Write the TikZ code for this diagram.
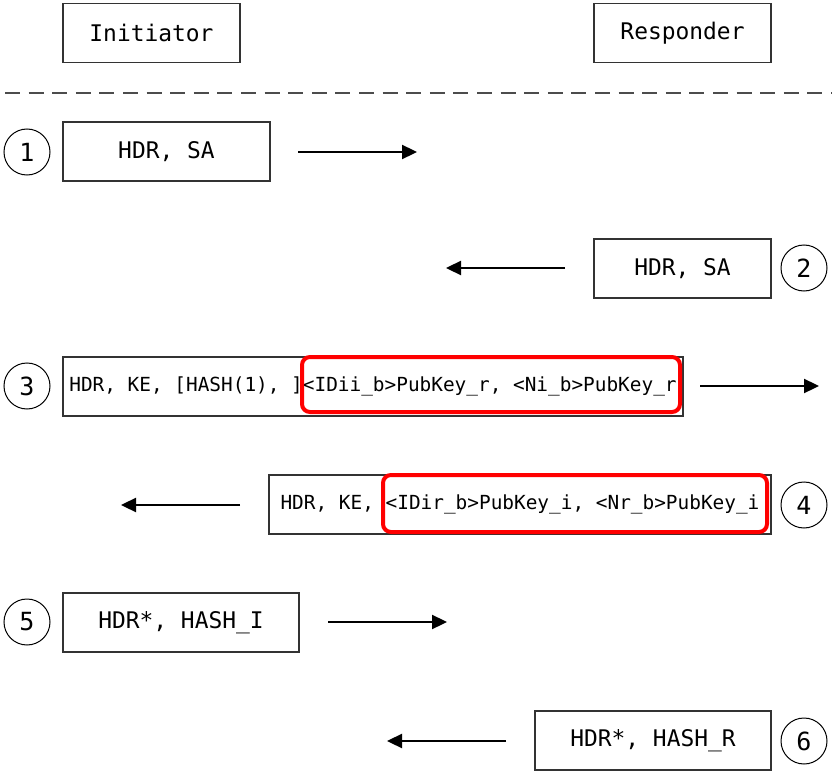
\documentclass[tikz,border=0pt]{standalone}
\usepackage{fontspec}
\setmonofont{DejaVu Sans Mono}
\usetikzlibrary{arrows.meta}
\tikzset{
  msgbox/.style={draw=black!80, line width=1.3pt, rectangle, inner sep=0pt, minimum height=59pt, font=\ttfamily\fontsize{22.9}{26}\selectfont},
  longbox/.style={msgbox, font=\ttfamily\fontsize{19.4}{22}\selectfont},
  numcirc/.style={draw=black, line width=1pt, circle, inner sep=0pt, minimum size=46pt, font=\ttfamily\fontsize{25}{28}\selectfont},
  hilite/.style={draw=red, line width=4pt, rounded corners=8pt, rectangle, inner sep=0pt},
  msgarrow/.style={line width=2.3pt, -{Triangle[length=15pt,width=14pt]}},
  sep/.style={line width=2pt, draw=black!70, dash pattern=on 15pt off 8.6pt}
}
\begin{document}
\begin{tikzpicture}[x=1pt,y=-1pt]
\useasboundingbox (0,0) rectangle (836,773);
% participants
\node[msgbox, minimum width=177pt] (init) at (151.5,33) {Initiator};
\node[msgbox, minimum width=177pt] (resp) at (682.5,33) {Responder};
\coordinate (sepL) at (5,93);
\coordinate (sepR) at (832,93);
\draw[sep] (sepL) -- (sepR);
% message 1
\node[numcirc] (c1) at (27,152) {1};
\node[msgbox, minimum width=207pt] (m1) at (166.5,151.5) {HDR, SA};
\coordinate (a1s) at (298,152);
\coordinate (a1e) at (417,152);
\draw[msgarrow] (a1s) -- (a1e);
% message 2
\node[msgbox, minimum width=177pt] (m2) at (682.5,268.5) {HDR, SA};
\node[numcirc] (c2) at (804,268) {2};
\coordinate (a2s) at (565,268);
\coordinate (a2e) at (446,268);
\draw[msgarrow] (a2s) -- (a2e);
% message 3
\node[numcirc] (c3) at (27,386) {3};
\node[longbox, minimum width=620pt] (m3) at (373,386.5) {HDR, KE, [HASH(1), ]<IDii\_b>PubKey\_r, <Ni\_b>PubKey\_r};
\node[hilite, minimum width=378pt, minimum height=55pt] (h3) at (491,384.5) {};
\coordinate (a3s) at (700,386);
\coordinate (a3e) at (819,386);
\draw[msgarrow] (a3s) -- (a3e);
% message 4
\node[longbox, minimum width=502pt] (m4) at (520,504.5) {HDR, KE, <IDir\_b>PubKey\_i, <Nr\_b>PubKey\_i};
\node[hilite, minimum width=384pt, minimum height=57pt] (h4) at (575,503.5) {};
\node[numcirc] (c4) at (804,505) {4};
\coordinate (a4s) at (240,505);
\coordinate (a4e) at (121,505);
\draw[msgarrow] (a4s) -- (a4e);
% message 5
\node[numcirc] (c5) at (27,622) {5};
\node[msgbox, minimum width=236pt] (m5) at (181,622.5) {HDR*, HASH\_I};
\coordinate (a5s) at (328,622);
\coordinate (a5e) at (447,622);
\draw[msgarrow] (a5s) -- (a5e);
% message 6
\node[msgbox, minimum width=236pt] (m6) at (653,740.5) {HDR*, HASH\_R};
\node[numcirc] (c6) at (804,741) {6};
\coordinate (a6s) at (506,741);
\coordinate (a6e) at (387,741);
\draw[msgarrow] (a6s) -- (a6e);
\end{tikzpicture}
\end{document}
